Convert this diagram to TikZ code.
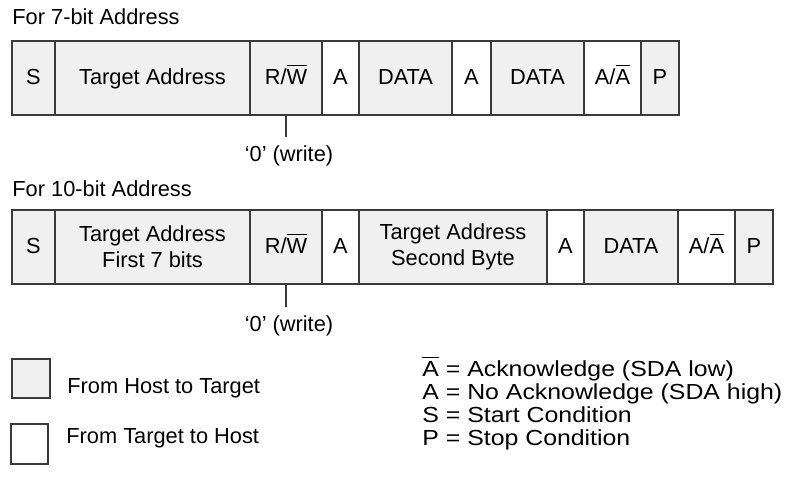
\documentclass[tikz,border=0pt]{standalone}
\usepackage{fontspec}
\setmainfont{Liberation Sans}
\newfontfamily\legfont[FakeStretch=1.14]{Liberation Sans}
\definecolor{hostfill}{HTML}{F0F0F0}
\definecolor{edgecol}{HTML}{3A3A3A}
\newcommand\myol[1]{\leavevmode\setbox0\hbox{#1}\rlap{\smash{\raisebox{0.83em}{\rule{\wd0}{0.06em}}}}\box0\relax}
\begin{document}
\begin{tikzpicture}[x=0.5pt,y=-0.5pt,
  fld/.style={draw=edgecol, line width=0.65pt, minimum height=37pt, inner sep=0pt, outer sep=0pt,
              anchor=north west, align=center, font=\fontsize{10.9}{13}\selectfont},
  one/.style={text height=0.86em, text depth=0.21em},
  host/.style={fld, fill=hostfill},
  tgt/.style={fld, fill=white},
  txt/.style={inner sep=0pt, font=\fontsize{10.9}{13}\selectfont},
  leg/.style={inner sep=0pt, anchor=base west, font=\legfont\fontsize{10.9}{13}\selectfont},
  tick/.style={draw=edgecol, line width=0.65pt}]
\useasboundingbox (0,0) rectangle (787,481);

% ---- 7-bit address ----
\node[txt, anchor=base west] (t7) at (12,25) {For 7-bit Address};
\node[host, one, minimum width=21.5pt] (s1)  at (12,41)  {S};
\node[host, one, minimum width=97.5pt] (ta1) at (55,41)  {Target Address};
\node[host, one, minimum width=36pt]   (rw1) at (250,41) {R/\myol{W}};
\node[tgt,  one, minimum width=18.5pt] (a1)  at (322,41) {A};
\node[host, one, minimum width=46.5pt] (d1)  at (359,41) {DATA};
\node[tgt,  one, minimum width=19.5pt] (a2)  at (452,41) {A};
\node[host, one, minimum width=46.5pt] (d2)  at (491,41) {DATA};
\node[tgt,  one, minimum width=28.5pt] (aa1) at (584,41) {A/\myol{A}};
\node[host, one, minimum width=19pt]   (p1)  at (641,41) {P};
\node[txt, anchor=north, inner ysep=4pt] (w1) at (289,137) {‘0’ (write)};
\draw[tick] (rw1.south) -- (rw1.south |- w1.north);

% ---- 10-bit address ----
\node[txt, anchor=base west] (t10) at (12,197) {For 10-bit Address};
\node[host, one, minimum width=21.5pt] (s2)  at (12,210)  {S};
\node[host, minimum width=97.5pt] (ta2) at (55,210)  {Target Address\\First 7 bits};
\node[host, one, minimum width=36pt]   (rw2) at (250,210) {R/\myol{W}};
\node[tgt,  one, minimum width=18.5pt] (a3)  at (322,210) {A};
\node[host, minimum width=94pt]   (tb2) at (359,210) {Target Address\\Second Byte};
\node[tgt,  one, minimum width=18.5pt] (a4)  at (547,210) {A};
\node[host, one, minimum width=47pt]   (d3)  at (584,210) {DATA};
\node[tgt,  one, minimum width=28.5pt] (aa2) at (678,210) {A/\myol{A}};
\node[host, one, minimum width=19pt]   (p2)  at (735,210) {P};
\node[txt, anchor=north, inner ysep=4pt] (w2) at (289,307) {‘0’ (write)};
\draw[tick] (rw2.south) -- (rw2.south |- w2.north);

% ---- legend ----
\node[draw=edgecol, fill=hostfill, line width=0.65pt, minimum width=19pt, minimum height=19.5pt,
      inner sep=0pt, outer sep=0pt, anchor=north west] (lg1) at (12,359) {};
\node[draw=edgecol, fill=white, line width=0.65pt, minimum width=18.5pt, minimum height=20pt,
      inner sep=0pt, outer sep=0pt, anchor=north west] (lg2) at (11,424) {};
\node[txt, anchor=base west] (lt1) at (67,393) {From Host to Target};
\node[txt, anchor=base west] (lt2) at (66,443) {From Target to Host};

\node[leg] (k1) at (422,376) {\myol{A} = Acknowledge (SDA low)};
\node[leg] (k2) at (422,399) {A = No Acknowledge (SDA high)};
\node[leg] (k3) at (422,422) {S = Start Condition};
\node[leg] (k4) at (422,445) {P = Stop Condition};
\end{tikzpicture}
\end{document}
